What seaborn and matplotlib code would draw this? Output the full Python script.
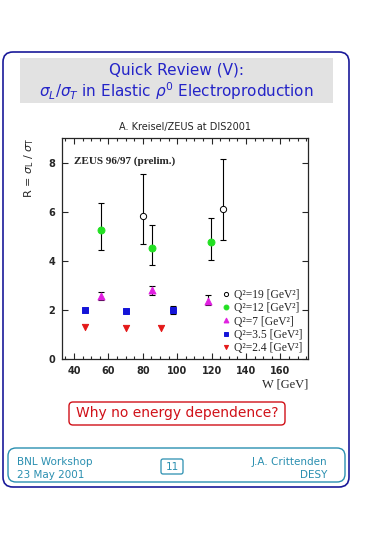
import numpy as np
import pandas as pd
import seaborn as sns
import matplotlib.pyplot as plt
from matplotlib.patches import FancyBboxPatch, Rectangle
from matplotlib.lines import Line2D
from matplotlib.ticker import MultipleLocator

# R = sigma_L / sigma_T vs W
w_q19 = [80.0, 126.8]
r_q19 = [5.84, 6.12]
dn_q19 = [1.15, 1.26]
up_q19 = [1.71, 2.04]

w_q12 = [55.4, 85.6, 119.5]
r_q12 = [5.27, 4.53, 4.78]
dn_q12 = [0.82, 0.69, 0.74]
up_q12 = [1.10, 0.94, 0.98]

w_q7 = [55.4, 85.6, 117.6]
r_q7 = [2.58, 2.79, 2.38]
dn_q7 = [0.17, 0.18, 0.19]
up_q7 = [0.14, 0.20, 0.24]

w_q35 = [46.5, 70.3, 97.8]
r_q35 = [2.00, 1.96, 2.00]
dn_q35 = [0.0, 0.09, 0.15]
up_q35 = [0.0, 0.09, 0.16]

w_q24 = [46.5, 70.3, 90.5]
r_q24 = [1.32, 1.28, 1.28]
dn_q24 = [0.0, 0.0, 0.0]
up_q24 = [0.0, 0.0, 0.0]

labels = ["Q²=19 [GeV²]", "Q²=12 [GeV²]", "Q²=7 [GeV²]", "Q²=3.5 [GeV²]", "Q²=2.4 [GeV²]"]

sns.set_style("ticks")
plt.rcParams['font.family'] = ['DejaVu Sans']

fig = plt.figure(figsize=(3.65, 5.35), dpi=100)

# slide decorations, drawn in pixel coords on a background axes
bg = fig.add_axes([0, 0, 1, 1], zorder=0)
bg.set_xlim(0, 365)
bg.set_ylim(535, 0)
bg.axis("off")

bg.add_patch(FancyBboxPatch((3, 52), 346, 435, boxstyle="round,pad=0,rounding_size=10",
                            fc="white", ec="#1a1a9a", lw=1.2))
bg.add_patch(Rectangle((20, 58), 313, 45, fc="#e2e2e2", ec="none"))
title_blue = "#2424c8"
bg.text(176.5, 70, "Quick Review (V):", color=title_blue, fontsize=11,
        ha="center", va="center")
bg.text(176.5, 91, r"$\sigma_L/\sigma_T$ in Elastic $\rho^0$ Electroproduction",
        color=title_blue, fontsize=11, ha="center", va="center")

red = "#d01018"
bg.add_patch(FancyBboxPatch((69, 402), 216, 23, boxstyle="round,pad=0,rounding_size=4",
                            fc="white", ec=red, lw=1))
bg.text(177, 413.5, "Why no energy dependence?", color=red, fontsize=10,
        ha="center", va="center")

teal = "#2a8fb0"
bg.add_patch(FancyBboxPatch((8, 448), 337, 34, boxstyle="round,pad=0,rounding_size=8",
                            fc="white", ec=teal, lw=1))
bg.text(17, 462, "BNL Workshop", color=teal, fontsize=7.5, va="center")
bg.text(17, 475, "23 May 2001", color=teal, fontsize=7.5, va="center")
bg.text(327, 462, "J.A. Crittenden", color=teal, fontsize=7.5, va="center", ha="right")
bg.text(327, 475, "DESY", color=teal, fontsize=7.5, va="center", ha="right")
bg.add_patch(FancyBboxPatch((161, 459), 22, 15, boxstyle="round,pad=0,rounding_size=2",
                            fc="white", ec=teal, lw=0.9))
bg.text(172, 467, "11", color=teal, fontsize=7.5, ha="center", va="center")

# the plot
ax = fig.add_axes([62 / 365, 1 - 359 / 535, 246 / 365, 221 / 535], zorder=2)

series = [
    (w_q19, r_q19, dn_q19, up_q19, "o", "white", 4.5),
    (w_q12, r_q12, dn_q12, up_q12, "o", "#22e022", 5),
    (w_q7, r_q7, dn_q7, up_q7, "^", "#e020e0", 5),
    (w_q35, r_q35, dn_q35, up_q35, "s", "#1414d8", 5),
    (w_q24, r_q24, dn_q24, up_q24, "v", "#e41818", 4.5),
]

handles = []
for (w, r, dn, up, mk, col, ms), lab in zip(series, labels):
    # only draw bars that stick out of the marker
    keep = [i for i in range(len(w)) if dn[i] > 0 or up[i] > 0]
    if keep:
        ax.errorbar([w[i] for i in keep], [r[i] for i in keep],
                    yerr=[[dn[i] for i in keep], [up[i] for i in keep]],
                    fmt="none", ecolor="black", elinewidth=0.8,
                    capsize=2, capthick=0.8, zorder=2)
    df = pd.DataFrame({"W": w, "R": r})
    ec = "black" if col == "white" else col
    sns.scatterplot(data=df, x="W", y="R", ax=ax, marker=mk, color=col,
                    edgecolor=ec, linewidth=0.7, s=ms ** 2, zorder=3)
    handles.append(Line2D([], [], ls="none", marker=mk, mfc=col, mec=ec,
                          mew=0.7, ms=ms - 1.5, label=lab))

ax.set_xlim(33, 176)
ax.set_ylim(0, 9)
ax.xaxis.set_major_locator(MultipleLocator(20))
ax.xaxis.set_minor_locator(MultipleLocator(5))
ax.yaxis.set_major_locator(MultipleLocator(2))
ax.tick_params(which="both", direction="in", top=True, right=True, width=0.8)
ax.tick_params(which="major", length=4, labelsize=7, pad=5)
ax.tick_params(which="minor", length=2)
for lbl in ax.get_xticklabels() + ax.get_yticklabels():
    lbl.set_fontweight("bold")
for sp in ax.spines.values():
    sp.set_linewidth(0.9)

ax.set_xlabel("W [GeV]", family="Liberation Serif", fontsize=9, loc="right", labelpad=2)
ax.set_ylabel(r"R = $\sigma_{\rm L}$ / $\sigma_{\rm T}$", fontsize=8, loc="top", labelpad=9)
ax.set_title("A. Kreisel/ZEUS at DIS2001", fontsize=7, pad=6)
ax.text(0.05, 0.895, "ZEUS 96/97 (prelim.)", transform=ax.transAxes,
        family="Liberation Serif", fontweight="bold", fontsize=8, va="center")

ax.legend(handles=handles, loc="lower right", bbox_to_anchor=(1.0, 0.0), frameon=False,
          prop={"family": "Liberation Serif", "size": 8.3}, handlelength=0.8,
          handletextpad=0.3, labelspacing=0.1, borderpad=0.3, borderaxespad=0.15)

fig.savefig("out.png", dpi=100)
